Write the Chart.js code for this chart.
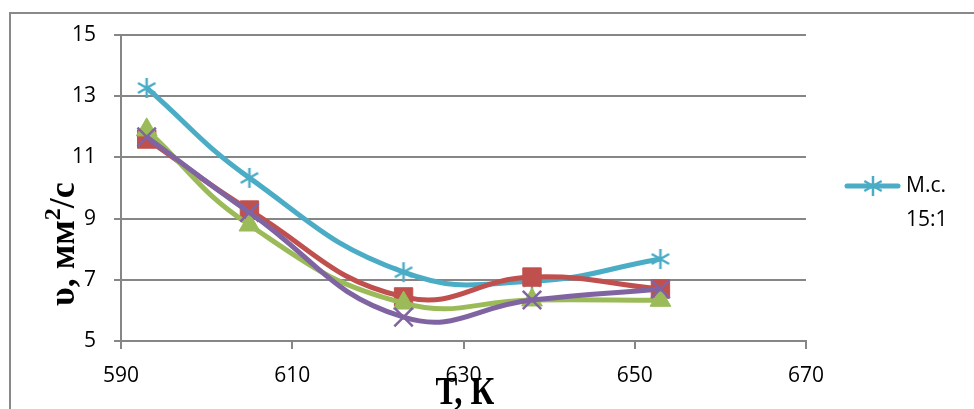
<!DOCTYPE html>
<html>
<head>
<meta charset="utf-8">
<script src="https://cdn.jsdelivr.net/npm/chart.js@4/dist/chart.umd.min.js"></script>
<style>
    html, body { margin: 0; padding: 0; background: #fff; }
    #wrap { width: 974px; height: 409px; position: relative; }
</style>
</head>
<body>
<div id="wrap"><canvas id="chart"></canvas></div>
<script>
// temperature, K
const temps = [593, 605, 623, 638, 653];
// kinematic viscosity, mm2/s
const msBlue = [13.27, 10.33, 7.25, 6.95, 7.68];
const msRed = [11.6, 9.28, 6.44, 7.09, 6.7];
const msGreen = [11.9, 8.79, 6.24, 6.34, 6.33];
const msPurple = [11.67, 9.2, 5.78, 6.34, 6.7];

const xTicks = [590, 610, 630, 650, 670];
const yTicks = [5, 7, 9, 11, 13, 15];
const legendLines = ['М.с.', '15:1'];

const BLUE = '#4BACC6', RED = '#C0504D', GREEN = '#9BBB59', PURPLE = '#8064A2';
const GRID = '#868686';
const TICK_FONT = { family: 'Open Sans', size: 21 };

// asterisk marker like the one Excel uses (vertical bar + X)
function asterisk(r, color) {
    const c = document.createElement('canvas');
    c.width = c.height = r * 2 + 4;
    const g = c.getContext('2d');
    g.strokeStyle = color;
    g.lineWidth = 2.5;
    const m = r + 2, d = r * 0.87, e = r * 0.5;
    g.beginPath();
    g.moveTo(m, m - r); g.lineTo(m, m + r);
    g.moveTo(m - d, m - e); g.lineTo(m + d, m + e);
    g.moveTo(m - d, m + e); g.lineTo(m + d, m - e);
    g.stroke();
    return c;
}
const starImg = asterisk(10, BLUE);

const toPts = ys => temps.map((t, i) => ({ x: t, y: ys[i] }));

const chartDecor = {
    id: 'chartDecor',
    beforeDraw(chart) {
        const ctx = chart.ctx;
        ctx.save();
        ctx.strokeStyle = '#898989';
        ctx.lineWidth = 2;
        ctx.strokeRect(10, 13, 990, 420);
        ctx.restore();
    },
    afterDraw(chart) {
        const ctx = chart.ctx;
        ctx.save();
        ctx.fillStyle = '#000';

        // y title: υ, мм²/с
        ctx.translate(74, 306);
        ctx.rotate(-Math.PI / 2);
        ctx.textBaseline = 'alphabetic';
        ctx.textAlign = 'left';
        let x = 0;
        ctx.font = 'bold 36px "Liberation Serif"';
        ctx.fillText('υ, мм', x, 0);
        x += ctx.measureText('υ, мм').width;
        ctx.font = 'bold 24px "Liberation Serif"';
        ctx.fillText('2', x, -14);
        x += ctx.measureText('2').width;
        ctx.font = 'bold 36px "Liberation Serif"';
        ctx.fillText('/с', x, 0);
        ctx.restore();

        // x title: Т, К
        ctx.save();
        ctx.fillStyle = '#000';
        ctx.translate(465, 404);
        ctx.scale(0.82, 1);
        ctx.font = 'bold 40px "Liberation Serif"';
        ctx.textAlign = 'center';
        ctx.textBaseline = 'alphabetic';
        ctx.fillText('Т, К', 0, 0);
        ctx.restore();

        // legend (only the first series is listed)
        ctx.save();
        ctx.strokeStyle = BLUE;
        ctx.lineWidth = 5;
        ctx.lineCap = 'round';
        ctx.beginPath();
        ctx.moveTo(847, 186);
        ctx.lineTo(898, 186);
        ctx.stroke();
        ctx.drawImage(starImg, 873 - starImg.width / 2, 186 - starImg.height / 2);
        ctx.fillStyle = '#000';
        ctx.font = '21px "Open Sans"';
        ctx.textBaseline = 'middle';
        ctx.textAlign = 'left';
        legendLines.forEach((t, i) => ctx.fillText(t, 906, 186 + i * 34));
        ctx.restore();
    }
};

new Chart(document.getElementById('chart'), {
    type: 'scatter',
    data: {
        datasets: [
            {
                label: 'М.с. 15:1', data: toPts(msBlue), showLine: true, order: 4,
                borderColor: BLUE, borderWidth: 5, tension: 0.45,
                pointStyle: starImg, pointRadius: 10
            },
            {
                label: 'red', data: toPts(msRed), showLine: true, order: 3,
                borderColor: RED, borderWidth: 5, tension: 0.45,
                pointStyle: 'rect', pointRadius: 13, pointBackgroundColor: RED, pointBorderColor: RED, pointBorderWidth: 1
            },
            {
                label: 'green', data: toPts(msGreen), showLine: true, order: 2,
                borderColor: GREEN, borderWidth: 5, tension: 0.45,
                pointStyle: 'triangle', pointRadius: 12, pointBackgroundColor: GREEN, pointBorderColor: GREEN, pointBorderWidth: 1
            },
            {
                label: 'purple', data: toPts(msPurple), showLine: true, order: 1,
                borderColor: PURPLE, borderWidth: 5, tension: 0.45,
                pointStyle: 'crossRot', pointRadius: 13, pointBorderColor: PURPLE, pointBorderWidth: 2.5
            }
        ]
    },
    options: {
        responsive: true,
        maintainAspectRatio: false,
        animation: false,
        layout: { padding: { left: 0, top: 35, right: 168, bottom: 8 } },
        plugins: { legend: { display: false }, tooltip: { enabled: false } },
        scales: {
            x: {
                type: 'linear', min: 590, max: 670,
                afterFit: s => { s.height = 60; },
                afterBuildTicks: s => { s.ticks = xTicks.map(v => ({ value: v })); },
                grid: { drawOnChartArea: false, drawTicks: true, tickLength: 8, color: GRID, lineWidth: 2 },
                border: { display: true, color: GRID, width: 2 },
                ticks: { color: '#000', font: TICK_FONT, padding: 14, maxRotation: 0 }
            },
            y: {
                type: 'linear', min: 5, max: 15,
                afterFit: s => { s.width = 121; },
                afterBuildTicks: s => { s.ticks = yTicks.map(v => ({ value: v })); },
                grid: { drawOnChartArea: true, drawTicks: true, tickLength: 7, color: GRID, lineWidth: 2 },
                border: { display: true, color: GRID, width: 2 },
                ticks: { color: '#000', font: TICK_FONT, padding: 18 }
            }
        }
    },
    plugins: [chartDecor]
});
</script>
</body>
</html>
